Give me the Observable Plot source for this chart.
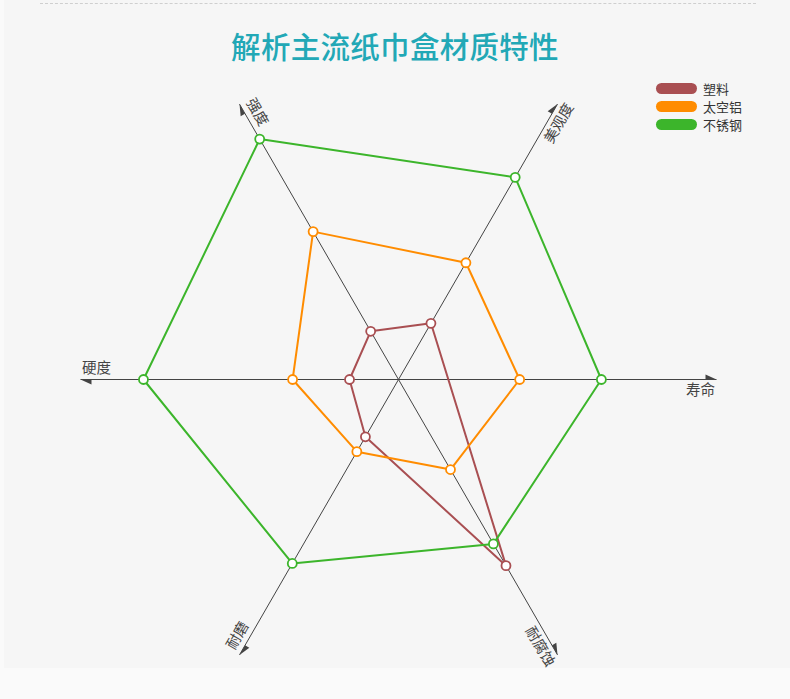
<!DOCTYPE html>
<html>
<head>
<meta charset="utf-8">
<script src="https://cdn.jsdelivr.net/npm/d3@7"></script>
<script src="https://cdn.jsdelivr.net/npm/@observablehq/plot@0.6"></script>
<style>
  html, body { margin: 0; padding: 0; background: #fafafa; }
  #wrap { position: relative; width: 790px; height: 699px; overflow: hidden; font-family: "Noto Sans CJK SC", "Noto Sans", sans-serif; }
  #panel { position: absolute; left: 4px; top: 0; width: 786px; height: 668px; background: #f6f6f6; }
  #dash { position: absolute; left: 40px; width: 716px; top: 3px; border-top: 1px dashed #cfcfcf; }
  #title { position: absolute; left: 0; top: 0; width: 790px; height: 80px; line-height: 90px; text-align: center; font-size: 29.5px; color: #22a8b6; font-weight: 500; letter-spacing: 0.3px; }
  #chart { position: absolute; left: 0; top: 80px; }
  #legend { position: absolute; left: 656px; top: 80px; }
  .row { position: absolute; left: 0; height: 18px; white-space: nowrap; }
  .sw { position: absolute; left: 0; top: 3px; width: 41px; height: 11px; border-radius: 6px; }
  .lb { position: absolute; left: 47px; top: 0; font-size: 13px; line-height: 17px; color: #333; }
</style>
</head>
<body>
<div id="wrap">
  <div id="panel"></div>
  <div id="dash"></div>
  <div id="title">解析主流纸巾盒材质特性</div>
  <div id="chart"></div>
  <div id="legend"></div>
</div>
<script>
// ---- data ----
const axisNames = ["寿命", "美观度", "强度", "硬度", "耐磨", "耐腐蚀"];
const axisAngles = [0, 60, 120, 180, 240, 300];
const seriesNames = ["塑料", "太空铝", "不锈钢"];
const seriesColors = ["#a94f52", "#ff8c00", "#3cb52b"];
const plastic  = [null, 20.4, 17.5, 15.4, 20.8, 67.6];
const aluminum = [38.1, 42.4, 53.7, 33.3, 26.2, 32.7];
const steel    = [63.8, 73.4, 87.3, 80.2, 66.8, 59.7];
const axisMax = 100;

// ---- layout ----
const W = 790, H = 619;
const cx = 398, cy = 299;      // centre in svg pixels
const PX = 3.18;               // pixels per value unit
const rad = d => d * Math.PI / 180;

const seriesValues = [plastic, aluminum, steel];
const points = [];
seriesValues.forEach((vals, s) => {
  vals.forEach((v, i) => {
    if (v == null) return;
    const a = rad(axisAngles[i]);
    points.push({series: seriesNames[s], axis: axisNames[i], x: v * Math.cos(a), y: v * Math.sin(a)});
  });
});

const axes = axisNames.map((name, i) => {
  const a = rad(axisAngles[i]);
  const labelR = 95, off = 3.5;
  let rot = -axisAngles[i];
  while (rot < -90) rot += 180;
  while (rot > 90) rot -= 180;
  return {
    name,
    x2: axisMax * Math.cos(a), y2: axisMax * Math.sin(a),
    lx: labelR * Math.cos(a) + off * Math.sin(a),
    ly: labelR * Math.sin(a) - off * Math.cos(a),
    rot,
    arrowRot: 90 - axisAngles[i]
  };
});

const halfArrow = {
  draw(ctx) {
    ctx.moveTo(0, 0);
    ctx.lineTo(0, 11);
    ctx.lineTo(-5, 11);
    ctx.closePath();
  }
};

const chart = Plot.plot({
  width: W, height: H, margin: 0,
  style: {background: "transparent", fontFamily: "'Noto Sans CJK SC', 'Noto Sans', sans-serif", overflow: "visible"},
  x: {domain: [-cx / PX, (W - cx) / PX], axis: null},
  y: {domain: [-(H - cy) / PX, cy / PX], axis: null},
  color: {domain: seriesNames, range: seriesColors},
  marks: [
    Plot.link(axes, {x1: 0, y1: 0, x2: "x2", y2: "y2", stroke: "#444", strokeWidth: 1}),
    Plot.dot(axes, {x: "x2", y: "y2", symbol: halfArrow, fill: "#444", stroke: "none", rotate: "arrowRot"}),
    Plot.text(axes, {x: "lx", y: "ly", text: "name", rotate: "rot", fontSize: 14.5, fill: "#444", textAnchor: "middle"}),
    Plot.line(points, {x: "x", y: "y", z: "series", stroke: "series", strokeWidth: 2, curve: "linear-closed"}),
    Plot.dot(points, {x: "x", y: "y", stroke: "series", fill: "white", r: 4.5, strokeWidth: 1.8})
  ]
});
document.getElementById("chart").appendChild(chart);

// legend
const legend = document.getElementById("legend");
seriesNames.forEach((n, i) => {
  const row = document.createElement("div");
  row.className = "row";
  row.style.top = (i * 18) + "px";
  row.innerHTML = `<div class="sw" style="background:${seriesColors[i]}"></div><div class="lb">${n}</div>`;
  legend.appendChild(row);
});
</script>
</body>
</html>
